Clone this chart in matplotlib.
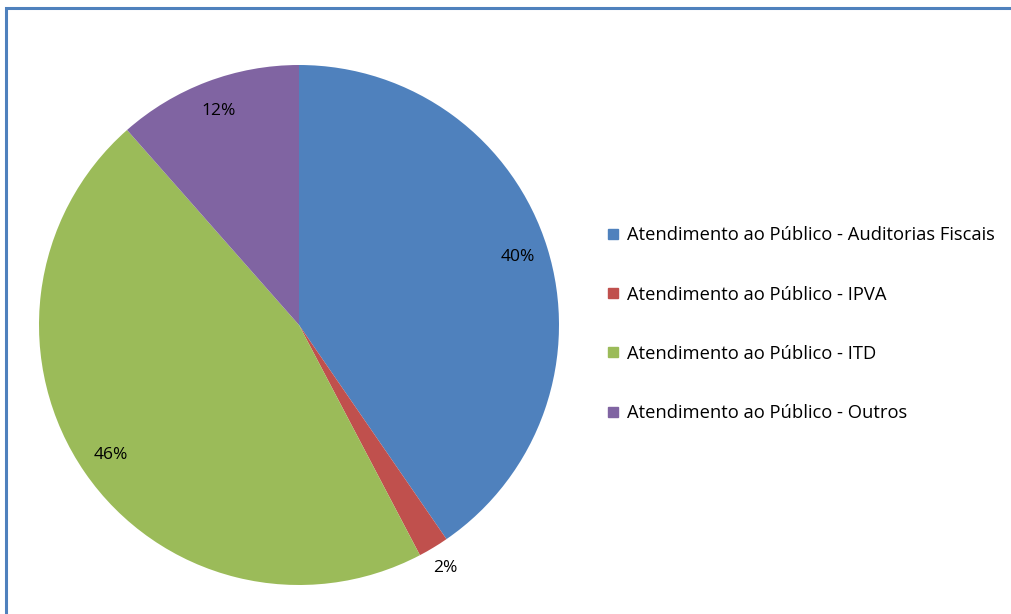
import matplotlib.pyplot as plt
import numpy as np
from matplotlib.patches import Rectangle
from matplotlib.lines import Line2D

plt.rcParams['font.family'] = ['Open Sans', 'DejaVu Sans']

labels = ['Atendimento ao Público - Auditorias Fiscais',
          'Atendimento ao Público - IPVA',
          'Atendimento ao Público - ITD',
          'Atendimento ao Público - Outros']
values = [40.4, 1.9, 46.2, 11.5]
colors = ['#4F81BD', '#C0504D', '#9BBB59', '#8064A2']

W, H = 1011, 614
fig = plt.figure(figsize=(W / 100, H / 100), dpi=100)

# outer chart frame (right and bottom edges fall off the picture)
fig.patches.append(Rectangle((6 / W, -0.1), 1.2, 1 - 8 / H + 0.1,
                             transform=fig.transFigure, fill=False,
                             edgecolor='#4F81BD', linewidth=2.2))

cx, cy, r = 299, 325, 260
ax = fig.add_axes([(cx - r) / W, (H - cy - r) / H, 2 * r / W, 2 * r / H])
wedges, texts, autotexts = ax.pie(values, colors=colors, startangle=90,
                                  counterclock=False, radius=1,
                                  autopct='%1.0f%%', pctdistance=0.88,
                                  wedgeprops={'linewidth': 0},
                                  textprops={'fontsize': 12.5, 'color': 'black'})
ax.set_xlim(-1, 1)
ax.set_ylim(-1, 1)
ax.set_aspect('equal')

# small slice: label sits outside the pie
w = wedges[1]
ang = np.deg2rad((w.theta1 + w.theta2) / 2)
autotexts[1].set_position((1.09 * np.cos(ang), 1.09 * np.sin(ang)))

handles = [Line2D([], [], marker='s', linestyle='none', markersize=6.5,
                  markerfacecolor=c, markeredgecolor=c) for c in colors]
fig.legend(handles, labels, loc='upper left',
           bbox_to_anchor=(600 / W, 1 - 219 / H), frameon=False,
           fontsize=13.2, handlelength=0.6, handletextpad=0.45,
           labelspacing=2.25, borderaxespad=0)

fig.savefig('out.png', dpi=100)
